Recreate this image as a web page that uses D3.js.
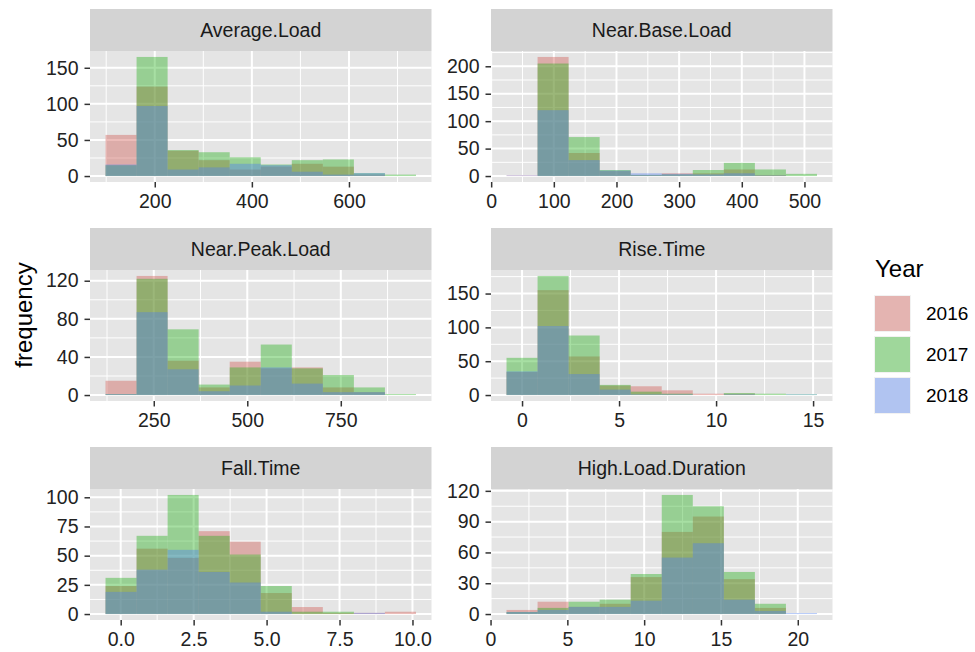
<!DOCTYPE html>
<html>
<head>
<meta charset="utf-8">
<script src="https://cdn.jsdelivr.net/npm/d3@7"></script>
<style>
  html, body { margin: 0; padding: 0; background: #fff; }
  svg text { font-family: "Liberation Sans", Arial, sans-serif; }
</style>
</head>
<body>
<svg id="chart" width="975" height="652"></svg>
<script>
// Facet names, one histogram per measure
const panels = ["Average.Load", "Near.Base.Load", "Near.Peak.Load",
                "Rise.Time", "Fall.Time", "High.Load.Duration"];

// Bin layout per facet: left edge of first bin and bin width (10 bins each)
const binStart = [98.6, 24.5, 121, -0.8, -0.52, 1.04];
const binWidth = [63.94, 49.55, 83, 1.6, 1.064, 2.021];

// Counts per bin, one array per facet
const count2016 = [
  [57, 124, 35, 22, 9, 13, 17, 13, 2, 0],
  [1, 217, 42, 9, 2, 5, 5, 12, 2, 0],
  [15, 125, 36, 8, 35, 28, 29, 8, 3, 0],
  [34, 155, 57, 14, 13, 7, 2, 2, 0, 0],
  [24, 56, 48, 71, 62, 18, 6, 1, 1, 2],
  [4, 12, 7, 10, 36, 80, 95, 34, 6, 0]
];
const count2017 = [
  [15, 165, 36, 33, 26, 16, 22, 23, 4, 2],
  [0, 205, 71, 11, 2, 3, 11, 24, 12, 4],
  [1, 122, 69, 11, 29, 53, 28, 21, 8, 1],
  [55, 176, 88, 15, 5, 2, 0, 3, 2, 1],
  [31, 67, 102, 67, 51, 24, 2, 2, 0, 0],
  [2, 6, 12, 14, 39, 116, 105, 41, 10, 0]
];
const count2018 = [
  [16, 97, 9, 12, 17, 15, 6, 2, 4, 0],
  [1, 120, 29, 10, 5, 4, 3, 5, 1, 0],
  [1, 87, 27, 4, 10, 29, 12, 3, 3, 0],
  [35, 102, 31, 8, 1, 1, 0, 1, 0, 1],
  [19, 38, 55, 36, 27, 2, 0, 0, 1, 0],
  [2, 4, 7, 7, 13, 55, 69, 14, 3, 1]
];

// Axis tick labels per facet
const xTickLabels = [
  ["200", "400", "600"],
  ["0", "100", "200", "300", "400", "500"],
  ["250", "500", "750"],
  ["0", "5", "10", "15"],
  ["0.0", "2.5", "5.0", "7.5", "10.0"],
  ["0", "5", "10", "15", "20"]
];
const yTickLabels = [
  ["0", "50", "100", "150"],
  ["0", "50", "100", "150", "200"],
  ["0", "40", "80", "120"],
  ["0", "50", "100", "150"],
  ["0", "25", "50", "75", "100"],
  ["0", "30", "60", "90", "120"]
];

const years = ["2016", "2017", "2018"];
const yearCounts = [count2016, count2017, count2018];
const yearFill = ["#CF5750", "#23AF19", "#507FF0"];
const fillOpacity = 0.4;

// Facet grid geometry
const colX = [90, 491];
const panelW = 341.5;
const stripTop = [9, 228, 447];
const stripH = 42;
const panelH = 131;

const svg = d3.select("#chart");
const colour = d3.scaleOrdinal().domain(years).range(yearFill);

// Minor breaks sit halfway between major breaks, extended across the range
function minorBreaks(majors, domain) {
  const step = majors[1] - majors[0];
  const out = [];
  for (let v = majors[0] - step / 2; v <= domain[1]; v += step) {
    if (v >= domain[0]) out.push(v);
  }
  return out;
}

panels.forEach((name, i) => {
  const col = i % 2, row = Math.floor(i / 2);
  const left = colX[col], right = left + panelW;
  const sTop = stripTop[row];
  const top = sTop + stripH, bottom = top + panelH;

  const lo = binStart[i], hi = binStart[i] + 10 * binWidth[i];
  const padX = (hi - lo) * 0.05;
  const x = d3.scaleLinear().domain([lo - padX, hi + padX]).range([left, right]);

  const maxCount = d3.max(yearCounts, c => d3.max(c[i]));
  const y = d3.scaleLinear().domain([-0.05 * maxCount, 1.05 * maxCount]).range([bottom, top]);

  const xMajor = xTickLabels[i].map(Number);
  const yMajor = yTickLabels[i].map(Number);

  const g = svg.append("g");

  // strip
  g.append("rect").attr("x", left).attr("y", sTop).attr("width", panelW).attr("height", stripH)
    .attr("fill", "#D3D3D3");
  g.append("text").attr("x", (left + right) / 2).attr("y", sTop + stripH / 2).attr("dy", "0.35em")
    .attr("text-anchor", "middle").attr("font-size", 19.5).attr("fill", "#1A1A1A").text(name);

  // panel background
  g.append("rect").attr("x", left).attr("y", top).attr("width", panelW).attr("height", panelH)
    .attr("fill", "#E5E5E5");

  // grid lines
  const grid = g.append("g").attr("stroke", "#fff").attr("fill", "none");
  minorBreaks(xMajor, x.domain()).forEach(v => {
    grid.append("line").attr("x1", x(v)).attr("x2", x(v)).attr("y1", top).attr("y2", bottom).attr("stroke-width", 1);
  });
  minorBreaks(yMajor, y.domain()).forEach(v => {
    grid.append("line").attr("x1", left).attr("x2", right).attr("y1", y(v)).attr("y2", y(v)).attr("stroke-width", 1);
  });
  xMajor.forEach(v => {
    grid.append("line").attr("x1", x(v)).attr("x2", x(v)).attr("y1", top).attr("y2", bottom).attr("stroke-width", 2);
  });
  yMajor.forEach(v => {
    grid.append("line").attr("x1", left).attr("x2", right).attr("y1", y(v)).attr("y2", y(v)).attr("stroke-width", 2);
  });

  // overlapping histograms, one per year
  years.forEach((yr, k) => {
    const bins = yearCounts[k][i].map((n, b) => ({ x0: lo + b * binWidth[i], x1: lo + (b + 1) * binWidth[i], n }));
    g.append("g").selectAll("rect").data(bins).join("rect")
      .attr("x", d => x(d.x0))
      .attr("width", d => x(d.x1) - x(d.x0))
      .attr("y", d => y(d.n))
      .attr("height", d => y(0) - y(d.n))
      .attr("fill", colour(yr))
      .attr("fill-opacity", fillOpacity);
  });

  // axes
  const xAxis = d3.axisBottom(x).tickValues(xMajor).tickFormat((d, j) => xTickLabels[i][j])
    .tickSize(5.5).tickPadding(3);
  const yAxis = d3.axisLeft(y).tickValues(yMajor).tickFormat((d, j) => yTickLabels[i][j])
    .tickSize(5.5).tickPadding(6);

  const gx = g.append("g").attr("transform", `translate(0,${bottom})`).call(xAxis);
  const gy = g.append("g").attr("transform", `translate(${left},0)`).call(yAxis);
  [gx, gy].forEach(a => {
    a.select(".domain").remove();
    a.selectAll(".tick line").attr("stroke", "#333").attr("stroke-width", 1.5);
    a.selectAll(".tick text").attr("font-size", 19.5).attr("fill", "#222")
      .attr("font-family", "Liberation Sans, Arial, sans-serif");
  });
  gx.selectAll(".tick text").attr("dy", "0.9em");
});

// y axis title
svg.append("text").attr("transform", "translate(32,315) rotate(-90)")
  .attr("text-anchor", "middle").attr("font-size", 24).attr("fill", "#000").text("frequency");

// legend
const legend = svg.append("g");
legend.append("text").attr("x", 875).attr("y", 277).attr("font-size", 24).attr("fill", "#000").text("Year");
years.forEach((yr, k) => {
  const ky = 295 + k * 41;
  legend.append("rect").attr("x", 874).attr("y", ky).attr("width", 37).attr("height", 37).attr("fill", "#F2F2F2");
  legend.append("rect").attr("x", 875).attr("y", ky + 1).attr("width", 35).attr("height", 35)
    .attr("fill", colour(yr)).attr("fill-opacity", fillOpacity);
  legend.append("text").attr("x", 926).attr("y", ky + 18.5).attr("dy", "0.35em")
    .attr("font-size", 19).attr("fill", "#000").text(yr);
});
</script>
</body>
</html>
